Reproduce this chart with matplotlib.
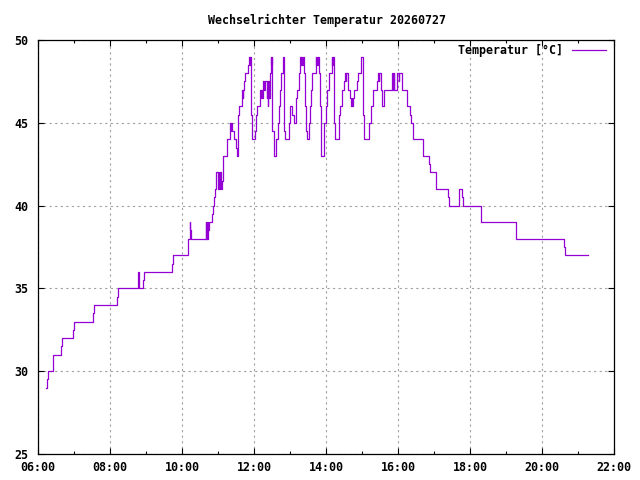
import matplotlib
matplotlib.use("Agg")
import matplotlib.pyplot as plt
from matplotlib.ticker import FixedLocator, MultipleLocator

title = "Wechselrichter Temperatur 20260727"
series_label = "Temperatur [°C]"

times = [
    "06:14:00", "06:14:30", "06:17:00", "06:25:30", "06:39:00", "06:40:30", "06:59:00", "07:00:30",
    "07:31:30", "07:33:00", "08:11:30", "08:13:00", "08:47:00", "08:48:00", "08:48:30", "08:49:00",
    "08:55:30", "08:56:30", "09:44:00", "09:45:30", "10:10:30", "10:13:00", "10:14:00", "10:15:00",
    "10:39:30", "10:40:30", "10:41:30", "10:42:30", "10:43:00", "10:44:00", "10:45:00",
    "10:50:30", "10:52:00", "10:54:00", "10:55:00", "10:56:30", "11:00:00", "11:01:00", "11:02:00",
    "11:03:00", "11:05:00", "11:06:30", "11:08:00", "11:09:00", "11:15:00", "11:20:00", "11:21:00",
    "11:22:00", "11:23:00", "11:27:00", "11:29:30", "11:31:00", "11:33:00", "11:34:00", "11:35:30",
    "11:40:30", "11:41:30", "11:42:00", "11:43:00", "11:45:00", "11:50:30", "11:52:00", "11:53:00",
    "11:53:30", "11:54:30", "11:55:00", "11:56:00", "11:57:00", "12:01:30", "12:03:00", "12:04:30",
    "12:10:00", "12:11:00", "12:12:00", "12:13:00", "12:14:30", "12:16:30", "12:18:00", "12:21:00",
    "12:22:00", "12:23:00", "12:24:00", "12:25:00", "12:26:00", "12:28:00", "12:29:00", "12:29:30",
    "12:30:00", "12:30:30", "12:33:00", "12:33:30", "12:37:00", "12:40:00", "12:41:30", "12:44:00",
    "12:45:30", "12:48:00", "12:50:00", "12:50:30", "12:52:00", "12:58:00", "13:00:00", "13:04:00",
    "13:07:00", "13:09:30", "13:10:30", "13:12:00", "13:14:30", "13:17:00", "13:18:00", "13:19:00",
    "13:20:00", "13:21:00", "13:23:00", "13:24:30", "13:26:00", "13:27:00", "13:29:00", "13:31:00",
    "13:34:00", "13:35:30", "13:37:00", "13:43:00", "13:44:00", "13:45:00", "13:46:00", "13:47:00",
    "13:48:00", "13:49:30", "13:51:00", "13:52:00", "13:56:00", "14:00:00", "14:01:30", "14:05:30",
    "14:09:30", "14:10:30", "14:11:30", "14:13:00", "14:14:00", "14:15:30", "14:21:00", "14:22:00",
    "14:24:00", "14:26:30", "14:30:30", "14:31:30", "14:32:30", "14:33:30", "14:36:00", "14:40:30",
    "14:41:30", "14:43:00", "14:44:00", "14:45:00", "14:47:00", "14:51:00", "14:53:00", "14:58:00",
    "15:01:00", "15:02:00", "15:04:00", "15:11:00", "15:15:00", "15:18:00", "15:25:30", "15:26:00",
    "15:28:00", "15:29:00", "15:31:00", "15:33:00", "15:37:00", "15:49:30", "15:52:00", "15:53:00",
    "15:54:00", "15:58:00", "16:01:00", "16:02:00", "16:06:00", "16:14:30", "16:20:00", "16:21:30",
    "16:24:30", "16:25:30", "16:42:00", "16:52:00", "16:54:00", "17:03:30", "17:24:00", "17:25:30",
    "17:42:00", "17:47:00", "17:49:00", "18:18:00", "19:16:00", "20:37:00", "20:39:00", "21:16:00",
]
temps = [
    29, 29.5, 30, 31, 31.5, 32, 32.5, 33,
    33.5, 34, 34.5, 35, 36, 35, 36, 35,
    35.5, 36, 36.5, 37, 38, 39, 38.5, 38,
    39, 38, 39, 38, 39, 38.5, 39,
    39.5, 40, 40.5, 41, 42, 41, 42, 41,
    42, 41, 41.5, 42.5, 43, 44, 45, 44.5,
    45, 44.5, 44, 43.5, 43, 45, 45.5, 46,
    47, 46.5, 47, 47.5, 48, 48.5, 49, 48.5,
    49, 48, 45.5, 45, 44, 44.5, 45.5, 46,
    47, 46.5, 47, 46.5, 47.5, 47, 47.5, 46.5,
    47, 46, 47.5, 46.5, 48, 49, 48.5, 49,
    48, 44.5, 43.5, 43, 44, 45, 46, 47,
    48, 49, 48, 44.5, 44, 45, 46, 45.5,
    45, 45.5, 46.5, 47, 48, 49, 48.5, 49,
    48.5, 49, 48, 46, 45, 44.5, 44, 45,
    46, 47, 48, 49, 48.5, 49, 48.5, 49,
    48, 46, 44, 43, 45, 46, 47, 48,
    49, 48.5, 49, 48, 45, 44, 44.5, 45.5,
    46, 47, 47.5, 48, 47.5, 48, 47, 46.5,
    46, 46.5, 46, 46.5, 47, 47.5, 48, 49,
    48, 45.5, 44, 45, 46, 47, 47.5, 48,
    47.5, 48, 47, 46, 47, 48, 47, 48,
    47, 48, 47.5, 48, 47, 46, 45.5, 45,
    44.5, 44, 43, 42.5, 42, 41, 40.5, 40,
    41, 40.5, 40, 39, 38, 37.5, 37, 37,
]

x_tick_labels = ["06:00", "08:00", "10:00", "12:00", "14:00", "16:00", "18:00", "20:00", "22:00"]
y_ticks = [25, 30, 35, 40, 45, 50]


def to_hours(s):
    parts = [float(p) for p in s.split(":")]
    while len(parts) < 3:
        parts.append(0.0)
    return parts[0] + parts[1] / 60 + parts[2] / 3600


xs = [to_hours(t) for t in times]
x_ticks = [to_hours(t) for t in x_tick_labels]

mono = "DejaVu Sans Mono"
fs = 8.4

fig = plt.figure(figsize=(6.4, 4.8), dpi=100)
ax = fig.add_axes([38 / 640, 1 - 454 / 480, (614 - 38) / 640, (454 - 40) / 480])

ax.plot(xs, temps, drawstyle="steps-post", color="#9400d3", linewidth=0.9, label=series_label)

ax.set_xlim(x_ticks[0], x_ticks[-1])
ax.set_ylim(y_ticks[0], y_ticks[-1])
ax.xaxis.set_major_locator(FixedLocator(x_ticks))
ax.set_xticklabels(x_tick_labels)
ax.xaxis.set_minor_locator(MultipleLocator(1))
ax.set_yticks(y_ticks)
ax.set_yticklabels([str(v) for v in y_ticks])

ax.grid(True, which="major", color="#a0a0a0", linestyle=(0, (2, 3)), linewidth=0.8)
ax.tick_params(which="both", direction="in", top=True, right=True, width=0.8,
               labelsize=fs)
ax.tick_params(axis="x", pad=5)
ax.tick_params(axis="y", pad=7)
ax.tick_params(which="major", length=4.5)
ax.tick_params(which="minor", length=2.5)
for lab in ax.get_xticklabels() + ax.get_yticklabels():
    lab.set_fontfamily(mono)
    lab.set_fontweight("bold")
for sp in ax.spines.values():
    sp.set_linewidth(0.9)
    sp.set_color("black")

fig.text(327 / 640, 1 - 20 / 480, title, ha="center", va="center",
         fontfamily=mono, fontweight="bold", fontsize=fs)

leg = ax.legend(loc="upper right", bbox_to_anchor=(1 - 5 / 576, 1 - 1 / 414),
                frameon=False, markerfirst=False,
                handlelength=2.9, handletextpad=0.7, borderaxespad=0.05, borderpad=0.25,
                prop={"family": mono, "weight": "bold", "size": fs})

fig.savefig("out.png", dpi=100)
